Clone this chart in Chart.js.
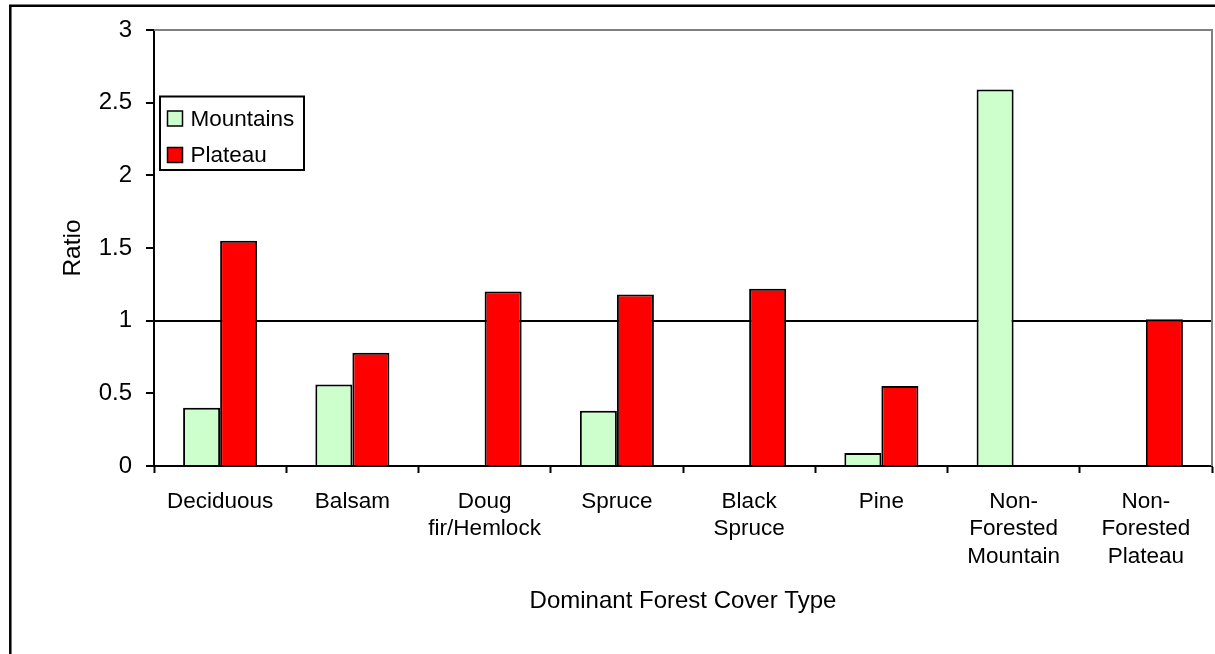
<!DOCTYPE html>
<html>
<head>
<meta charset="utf-8">
<title>Dominant Forest Cover Type ratio</title>
<script src="https://cdn.jsdelivr.net/npm/chart.js@4.4.1/dist/chart.umd.min.js"></script>
<style>
  html, body { margin: 0; padding: 0; background: #ffffff; }
  canvas { display: block; }
</style>
</head>
<body>
<canvas id="chart" width="1215" height="654"></canvas>
<script>
// Forest cover types along the x axis
const categories = [
  'Deciduous',
  'Balsam',
  ['Doug', 'fir/Hemlock'],
  'Spruce',
  ['Black', 'Spruce'],
  'Pine',
  ['Non-', 'Forested', 'Mountain'],
  ['Non-', 'Forested', 'Plateau']
];

// Ratio per cover type (null = no bar)
const mountains = [0.40, 0.56, null, 0.38, null, 0.09, 2.59, null];
const plateau   = [1.55, 0.78, 1.20, 1.18, 1.22, 0.55, null, 1.01];

// Y axis tick values
const yTicks = [0, 0.5, 1, 1.5, 2, 2.5, 3];

const FONT = '"Liberation Sans", Arial, Helvetica, sans-serif';

// White page, outer frame and the gray top/right edges of the plot area
const framePlugin = {
  id: 'frame',
  beforeDraw(chart) {
    const ctx = chart.ctx;
    const { width, height } = chart;
    ctx.save();
    ctx.fillStyle = '#ffffff';
    ctx.fillRect(0, 0, width, height);
    ctx.strokeStyle = '#000000';
    ctx.lineWidth = 2.5;
    ctx.beginPath();
    ctx.moveTo(10.3, height + 5);
    ctx.lineTo(10.3, 5.7);
    ctx.lineTo(width + 5, 5.7);
    ctx.stroke();
    ctx.restore();
  },
  afterDatasetsDraw(chart) {
    const ctx = chart.ctx;
    const a = chart.chartArea;
    ctx.save();
    ctx.strokeStyle = '#808080';
    ctx.lineWidth = 2;
    ctx.beginPath();
    ctx.moveTo(a.left, a.top);
    ctx.lineTo(a.right, a.top);
    ctx.lineTo(a.right, a.bottom);
    ctx.stroke();
    ctx.restore();
  }
};

// Boxed legend inside the plot area
const boxLegendPlugin = {
  id: 'boxLegend',
  afterDraw(chart) {
    const ctx = chart.ctx;
    const box = { x: 160, y: 96.5, w: 144, h: 73.5 };
    ctx.save();
    ctx.fillStyle = '#ffffff';
    ctx.fillRect(box.x, box.y, box.w, box.h);
    ctx.strokeStyle = '#000000';
    ctx.lineWidth = 2;
    ctx.strokeRect(box.x, box.y, box.w, box.h);
    ctx.font = '22.5px ' + FONT;
    ctx.textBaseline = 'middle';
    ctx.textAlign = 'left';
    chart.data.datasets.forEach((ds, i) => {
      const cy = 118.5 + i * 36.5;
      ctx.fillStyle = ds.backgroundColor;
      ctx.fillRect(167.5, cy - 7.5, 15, 15);
      ctx.lineWidth = 1.5;
      ctx.strokeStyle = '#000000';
      ctx.strokeRect(167.5, cy - 7.5, 15, 15);
      ctx.fillStyle = '#000000';
      ctx.fillText(ds.label, 190.5, cy + 1);
    });
    ctx.restore();
  }
};

new Chart(document.getElementById('chart'), {
  type: 'bar',
  data: {
    labels: categories,
    datasets: [
      {
        label: 'Mountains',
        data: mountains,
        backgroundColor: '#ccffcc',
        borderColor: '#000000',
        borderWidth: 2,
        borderSkipped: 'start'
      },
      {
        label: 'Plateau',
        data: plateau,
        backgroundColor: '#ff0000',
        borderColor: '#000000',
        borderWidth: 2,
        borderSkipped: 'start'
      }
    ]
  },
  options: {
    responsive: false,
    animation: false,
    devicePixelRatio: 1,
    layout: { padding: { top: 30, right: 3, bottom: 0, left: 0 } },
    datasets: {
      bar: { categoryPercentage: 0.56, barPercentage: 1.0 }
    },
    plugins: {
      legend: { display: false },
      tooltip: { enabled: false }
    },
    scales: {
      x: {
        afterFit(scale) { scale.height = 188; },
        grid: {
          offset: true,
          drawOnChartArea: false,
          drawTicks: true,
          tickLength: 7,
          tickColor: '#000000',
          tickWidth: 2
        },
        border: { display: true, color: '#000000', width: 2 },
        ticks: {
          autoSkip: false,
          maxRotation: 0,
          minRotation: 0,
          padding: 15,
          color: '#000000',
          font: { family: FONT, size: 22.5, lineHeight: 1.22 }
        },
        title: {
          display: true,
          text: 'Dominant Forest Cover Type',
          color: '#000000',
          font: { family: FONT, size: 24, lineHeight: 1.2 },
          padding: { top: 0, bottom: 38 }
        }
      },
      y: {
        min: 0,
        max: 3,
        afterFit(scale) { scale.width = 154; },
        afterBuildTicks(scale) {
          scale.ticks = yTicks.map(v => ({ value: v }));
        },
        grid: {
          drawOnChartArea: true,
          drawTicks: true,
          tickLength: 8,
          tickColor: '#000000',
          tickWidth: 2,
          lineWidth: 2,
          color: ctx => (ctx.tick && ctx.tick.value === 1) ? '#000000' : 'rgba(0,0,0,0)'
        },
        border: { display: true, color: '#000000', width: 2 },
        ticks: {
          padding: 14,
          color: '#000000',
          font: { family: FONT, size: 24 },
          callback: v => String(v)
        },
        title: {
          display: true,
          text: 'Ratio',
          color: '#000000',
          font: { family: FONT, size: 24.5, lineHeight: 1.2 },
          padding: { top: 59, bottom: 0 }
        }
      }
    }
  },
  plugins: [framePlugin, boxLegendPlugin]
});
</script>
</body>
</html>
